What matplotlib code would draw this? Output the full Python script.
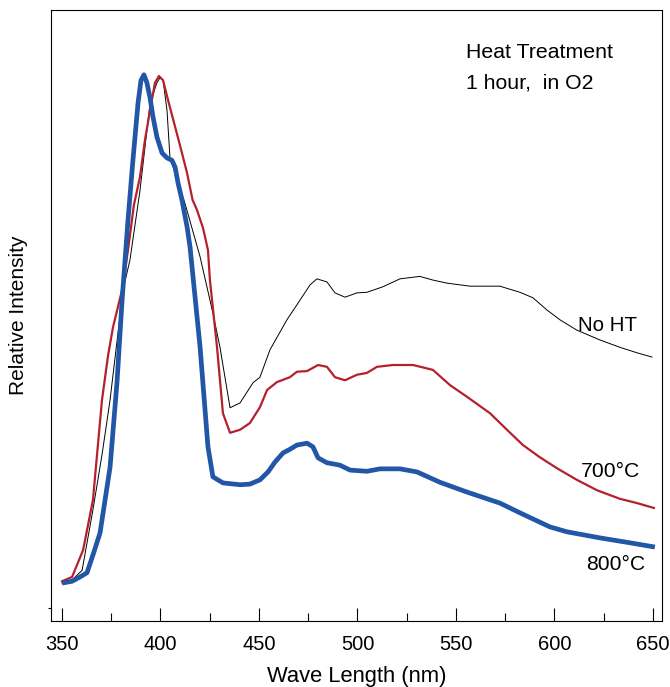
import matplotlib
matplotlib.use("Agg")
import matplotlib.pyplot as plt
from matplotlib.ticker import MultipleLocator

plt.rcParams['font.family'] = ['Liberation Sans', 'DejaVu Sans']

# No HT (thin black)
nm_noht = [350.0, 355.1, 360.2, 365.7, 370.3, 374.4, 381.0, 384.5, 389.6, 394.7, 398.2, 399.7,
           401.3, 403.3, 404.8, 412.4, 420.1, 426.6, 430.2, 435.3, 440.4, 447.0, 450.5, 455.6,
           464.2, 470.8, 475.9, 479.4, 484.5, 488.6, 493.7, 499.7, 504.8, 512.9, 521.6, 531.7,
           538.3, 545.4, 557.1, 572.3, 582.5, 589.1, 596.2, 602.8, 611.4, 623.1, 633.2, 641.9,
           649.5]
int_noht = [6.2, 6.7, 8.3, 18.2, 27.2, 36.2, 54.2, 59.1, 70.5, 84.8, 88.1, 88.9,
            88.5, 83.6, 75.9, 68.4, 59.6, 50.4, 44.8, 34.9, 35.7, 39.0, 39.9, 44.4,
            49.3, 52.5, 55.0, 56.0, 55.5, 53.7, 53.0, 53.7, 53.8, 54.7, 56.0, 56.4,
            55.8, 55.3, 54.8, 54.8, 53.8, 52.9, 50.9, 49.3, 47.6, 46.0, 44.8, 43.9,
            43.2]

# 700 C (red)
nm_700 = [350.0, 355.1, 360.7, 365.7, 370.3, 373.4, 375.9, 380.5, 383.5, 386.5, 389.6, 392.1,
          394.7, 397.2, 399.2, 401.3, 403.8, 407.4, 410.9, 413.5, 416.3, 418.5, 421.6, 424.1,
          425.1, 428.7, 431.7, 435.3, 440.4, 445.4, 450.5, 454.1, 459.1, 465.7, 469.3, 474.4,
          480.0, 484.5, 488.6, 493.7, 499.7, 504.8, 509.9, 518.0, 528.2, 538.3, 547.0, 555.6,
          567.3, 575.9, 584.0, 592.6, 601.3, 611.4, 621.6, 633.2, 641.9, 650.5]
int_700 = [6.5, 7.2, 11.6, 19.8, 36.2, 43.5, 48.1, 54.2, 60.7, 68.1, 72.7, 78.7,
           83.6, 88.1, 89.2, 88.5, 85.3, 80.9, 76.6, 73.3, 68.9, 67.3, 64.3, 60.7,
           55.8, 44.8, 34.0, 30.8, 31.3, 32.4, 35.0, 37.8, 39.1, 39.9, 40.8, 40.9,
           41.9, 41.6, 39.9, 39.4, 40.3, 40.6, 41.6, 41.9, 41.9, 41.1, 38.6, 36.7,
           34.0, 31.3, 28.8, 26.8, 25.0, 23.1, 21.4, 20.0, 19.3, 18.5]

# 800 C (thick blue)
nm_800 = [350.0, 355.1, 359.1, 362.7, 365.7, 369.3, 374.4, 377.9, 380.5, 383.5, 386.0, 388.6,
          390.1, 391.6, 393.1, 394.7, 396.2, 398.2, 400.8, 403.3, 405.8, 407.4, 408.9, 410.9,
          413.5, 415.0, 420.1, 424.1, 426.6, 431.7, 440.4, 445.4, 450.5, 454.6, 458.1, 462.2,
          465.7, 469.3, 474.4, 477.4, 480.0, 484.5, 491.1, 496.2, 504.8, 511.4, 521.6, 530.2,
          541.9, 555.6, 572.3, 582.5, 597.7, 606.3, 623.1, 638.3, 651.0]
int_800 = [6.2, 6.5, 7.2, 7.9, 10.8, 14.4, 25.2, 39.0, 52.5, 65.6, 75.4, 84.8,
           88.5, 89.4, 88.1, 85.6, 82.5, 79.2, 76.6, 75.8, 75.4, 74.3, 71.7, 68.9,
           64.5, 61.2, 44.8, 28.5, 23.6, 22.6, 22.3, 22.4, 23.1, 24.4, 26.0, 27.5,
           28.1, 28.8, 29.1, 28.5, 26.7, 25.9, 25.5, 24.7, 24.5, 24.9, 24.9, 24.4,
           22.7, 21.1, 19.3, 17.7, 15.4, 14.6, 13.6, 12.8, 12.1]

fig = plt.figure(figsize=(6.7, 6.87), dpi=100)
ax = fig.add_axes([0.0761, 0.0961, 0.9119, 0.8893])

ax.plot(nm_noht, int_noht, color='black', lw=0.7, solid_joinstyle='round')
ax.plot(nm_700, int_700, color='#b5202e', lw=1.6, solid_joinstyle='round')
ax.plot(nm_800, int_800, color='#2256a6', lw=3.4, solid_capstyle='butt', solid_joinstyle='round')

ax.set_xlim(344.4, 654.6)
ax.set_ylim(0, 100)

ax.xaxis.set_major_locator(MultipleLocator(50))
ax.xaxis.set_minor_locator(MultipleLocator(25))
ax.tick_params(axis='x', which='major', direction='in', length=9.5, width=0.8,
               labelsize=14.5, pad=10)
ax.tick_params(axis='x', which='minor', direction='in', length=5.5, width=0.8)
ax.set_yticks([2.1])
ax.set_yticklabels([''])
ax.tick_params(axis='y', direction='out', length=2.5, width=0.8)

for sp in ax.spines.values():
    sp.set_linewidth(0.8)

ax.set_xlabel('Wave Length (nm)', fontsize=15.8)
ax.xaxis.set_label_coords(0.5, -0.073)
ax.xaxis.label.set_va('top')
ax.set_ylabel('Relative Intensity', fontsize=15)
ax.yaxis.set_label_coords(-0.038, 0.5)

ax.text(0.679, 0.931, 'Heat Treatment', transform=ax.transAxes, fontsize=15.3, va='center')
ax.text(0.679, 0.880, '1 hour,  in O2', transform=ax.transAxes, fontsize=15.3, va='center')

ax.text(611.9, 48.4, 'No HT', fontsize=14.8, va='center')
ax.text(613.5, 24.4, '700°C', fontsize=15.2, va='center')
ax.text(616.0, 9.2, '800°C', fontsize=15.2, va='center')

fig.savefig('out.png', dpi=100)
